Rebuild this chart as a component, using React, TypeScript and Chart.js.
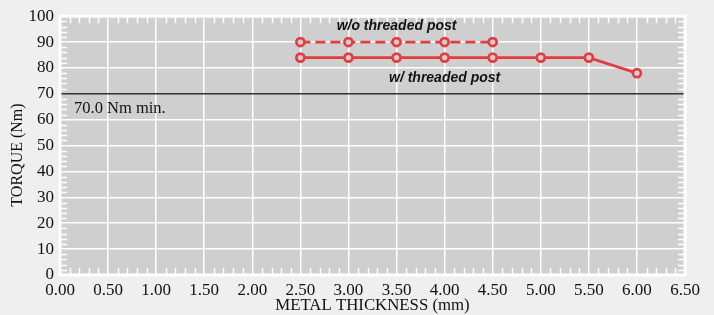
import React, { useEffect, useRef } from "react";
import { Chart, registerables } from "chart.js";

Chart.register(...registerables);

const thicknessWith = [2.5, 3.0, 3.5, 4.0, 4.5, 5.0, 5.5, 6.0];
const torqueWith = [84, 84, 84, 84, 84, 84, 84, 78];
const thicknessWithout = [2.5, 3.0, 3.5, 4.0, 4.5];
const torqueWithout = [90, 90, 90, 90, 90];
const minTorque = 70;
const minLabel = "70.0 Nm min.";
const labelWith = "w/ threaded post";
const labelWithout = "w/o threaded post";
const xTitle = "METAL THICKNESS (mm)";
const yTitle = "TORQUE (Nm)";

const SERIF = '"Liberation Serif", "Times New Roman", serif';
const RED = "#e23d40";

const decorPlugin = {
  id: "decor",
  beforeDraw(chart: any) {
    const { ctx, chartArea: a } = chart;
    ctx.save();
    ctx.fillStyle = "#efefef";
    ctx.fillRect(0, 0, chart.width, chart.height);
    ctx.fillStyle = "#cfcfcf";
    ctx.fillRect(a.left, a.top, a.right - a.left, a.bottom - a.top);
    ctx.restore();
  },
  beforeDatasetsDraw(chart: any) {
    const { ctx, chartArea: a, scales } = chart;
    const xs = scales.x;
    const ys = scales.y;
    ctx.save();
    ctx.strokeStyle = "#ffffff";
    ctx.lineWidth = 1.5;
    const len = 7;
    ctx.beginPath();
    for (let i = 1; i < 65; i++) {
      if (i % 5 === 0) continue;
      const px = Math.round(xs.getPixelForValue(i / 10)) + 0.5;
      ctx.moveTo(px, a.top);
      ctx.lineTo(px, a.top + len);
      ctx.moveTo(px, a.bottom);
      ctx.lineTo(px, a.bottom - len);
    }
    for (let v = 2; v < 100; v += 2) {
      if (v % 10 === 0) continue;
      const py = Math.round(ys.getPixelForValue(v)) + 0.5;
      ctx.moveTo(a.left, py);
      ctx.lineTo(a.left + len, py);
      ctx.moveTo(a.right, py);
      ctx.lineTo(a.right - len, py);
    }
    ctx.stroke();
    ctx.lineWidth = 3;
    ctx.strokeRect(a.left, a.top, a.right - a.left, a.bottom - a.top);

    // minimum line
    const py = ys.getPixelForValue(minTorque);
    ctx.strokeStyle = "#333333";
    ctx.lineWidth = 1.5;
    ctx.beginPath();
    ctx.moveTo(a.left + 1.5, py);
    ctx.lineTo(a.right - 1.5, py);
    ctx.stroke();
    ctx.restore();
  },
  afterDraw(chart: any) {
    const { ctx, chartArea: a, scales } = chart;
    const xs = scales.x;
    const ys = scales.y;
    ctx.save();
    ctx.fillStyle = "#111111";
    ctx.textBaseline = "middle";
    ctx.textAlign = "left";
    ctx.font = `16.5px ${SERIF}`;
    ctx.fillText(minLabel, xs.getPixelForValue(0) + 14, ys.getPixelForValue(minTorque) + 15);

    ctx.textAlign = "center";
    ctx.font = `16.8px ${SERIF}`;
    ctx.fillText(xTitle, (a.left + a.right) / 2, 306);

    ctx.save();
    ctx.font = `16px ${SERIF}`;
    ctx.translate(18, 155);
    ctx.rotate(-Math.PI / 2);
    ctx.fillText(yTitle, 0, 0);
    ctx.restore();

    ctx.font = `italic bold 14px "Liberation Sans", Arial, sans-serif`;
    ctx.fillText(labelWithout, xs.getPixelForValue(3.5), ys.getPixelForValue(torqueWithout[2]) - 16);
    ctx.fillText(labelWith, xs.getPixelForValue(4.0), ys.getPixelForValue(torqueWith[3]) + 21);
    ctx.restore();
  },
};

export default function App() {
  const ref = useRef<HTMLCanvasElement | null>(null);
  useEffect(() => {
    document.body.style.margin = "0";
    document.body.style.background = "#efefef";
    const canvas = ref.current!;
    const pointStyle = {
      pointRadius: 4,
      pointBorderWidth: 2.7,
      pointBackgroundColor: "#cfcfcf",
      pointBorderColor: RED,
    };
    const chart = new Chart(canvas, {
      type: "line",
      data: {
        datasets: [
          {
            label: labelWithout,
            data: thicknessWithout.map((x, i) => ({ x, y: torqueWithout[i] })),
            borderColor: RED,
            borderWidth: 2.8,
            borderDash: [10, 5],
            ...pointStyle,
            fill: false,
          },
          {
            label: labelWith,
            data: thicknessWith.map((x, i) => ({ x, y: torqueWith[i] })),
            borderColor: RED,
            borderWidth: 2.8,
            ...pointStyle,
            fill: false,
          },
        ],
      },
      options: {
        animation: false,
        responsive: false,
        devicePixelRatio: 1,
        layout: { padding: { top: 15, right: 29, bottom: 0, left: 0 } },
        plugins: { legend: { display: false }, tooltip: { enabled: false }, title: { display: false } },
        scales: {
          x: {
            type: "linear",
            min: 0,
            max: 6.5,
            afterFit: (s: any) => {
              s.height = 40;
            },
            ticks: {
              stepSize: 0.5,
              autoSkip: false,
              maxRotation: 0,
              padding: 5,
              color: "#111111",
              font: { family: SERIF, size: 17 },
              callback: (v: any) => Number(v).toFixed(2),
            },
            grid: { color: "#ffffff", lineWidth: 1.5, drawTicks: false },
            border: { display: false },
          },
          y: {
            type: "linear",
            min: 0,
            max: 100,
            afterFit: (s: any) => {
              s.width = 60;
            },
            ticks: {
              stepSize: 10,
              padding: 6,
              color: "#111111",
              font: { family: SERIF, size: 17 },
            },
            grid: {
              color: (c: any) => (c.tick && c.tick.value === minTorque ? "rgba(0,0,0,0)" : "#ffffff"),
              lineWidth: 1.5,
              drawTicks: false,
            },
            border: { display: false },
          },
        },
      },
      plugins: [decorPlugin],
    } as any);
    return () => chart.destroy();
  }, []);
  return <canvas ref={ref} width={714} height={315} style={{ display: "block" }} />;
}
